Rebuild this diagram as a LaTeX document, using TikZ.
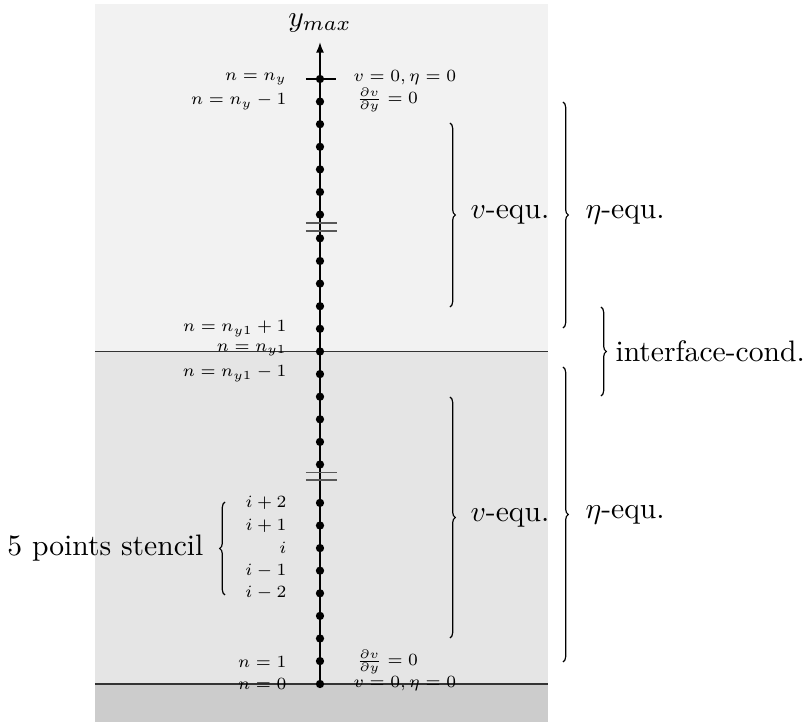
\documentclass[tikz,border=0pt]{standalone}
\usepackage{graphicx}
\usetikzlibrary{decorations.pathreplacing,arrows.meta}
\newcommand{\smlab}[1]{\scalebox{0.83}{\scriptsize #1}}
\begin{document}
\begin{tikzpicture}[x=0.3378pt,y=-0.3378pt,
  dotn/.style={circle,fill=black,inner sep=0pt,minimum size=2.8pt},
  lbl/.style={inner sep=1pt},
  biglbl/.style={font=\normalsize,inner sep=1pt},
  brc/.style={decorate,decoration={brace,amplitude=1.8pt},line width=0.4pt},
  hline/.style={black!80,line width=0.6pt},
  gapline/.style={black!65,line width=0.5pt}]
\useasboundingbox (0,0) rectangle (804,722);
% backgrounds
\fill[gray!10] (95,4) rectangle (548,351.5);
\fill[gray!20] (95,351.5) rectangle (548,684);
\fill[gray!40] (95,684) rectangle (548,722);
\draw[hline] (95,351.5) -- (548,351.5);
\draw[hline] (95,684) -- (548,684);
% axis
\coordinate (bot) at (320,684);
\coordinate (top) at (320,42);
\draw[line width=0.55pt,-{Latex[length=3.6pt,width=2.7pt]}] (bot) -- (top);
\node[biglbl] (ymax) at (320,23) {$y_{max}$};
% tick at top
\draw[line width=0.5pt] (306,79) -- (336,79);
% gap markers
\draw[gapline] (306,223) -- (337,223);
\draw[gapline] (306,231) -- (337,231);
\draw[gapline] (306,472.7) -- (337,472.7);
\draw[gapline] (306,480) -- (337,480);
% dots
\foreach \yy [count=\k] in {79,101.6,124.2,146.8,169.4,192,214.6,238.3,261,283.6,306.2,328.8,351.5,374.1,396.7,419.3,441.9,464.5,502.9,525.5,548.1,570.7,593.3,615.9,638.5,661.1,684}
  \node[dotn] (d\k) at (320,\yy) {};
% left labels
\node[lbl,anchor=east] (lny) at (290,79) {\smlab{$n=n_y$}};
\node[lbl,anchor=east] (lnym) at (290,101.6) {\smlab{$n=n_y-1$}};
\node[lbl,anchor=east] (lny1p) at (290,328.8) {\smlab{$n=n_{y1}+1$}};
\node[lbl,anchor=east] (lny1) at (290,350) {\smlab{$n=n_{y1}$}};
\node[lbl,anchor=east] (lny1m) at (290,373.5) {\smlab{$n=n_{y1}-1$}};
\node[lbl,anchor=east] (lip2) at (290,502.9) {\smlab{$i+2$}};
\node[lbl,anchor=east] (lip1) at (290,525.5) {\smlab{$i+1$}};
\node[lbl,anchor=east] (li) at (290,548.1) {\smlab{$i$}};
\node[lbl,anchor=east] (lim1) at (290,570.7) {\smlab{$i-1$}};
\node[lbl,anchor=east] (lim2) at (290,593.3) {\smlab{$i-2$}};
\node[lbl,anchor=east] (ln1) at (290,661.5) {\smlab{$n=1$}};
\node[lbl,anchor=east] (ln0) at (290,684) {\smlab{$n=0$}};
% right labels
\node[lbl,anchor=west] (rtop) at (350,78) {\smlab{$v=0,\eta=0$}};
\node[lbl,anchor=west] (rtop2) at (353,100) {\smlab{$\frac{\partial v}{\partial y}=0$}};
\node[lbl,anchor=west] (rbot2) at (353,662) {\smlab{$\frac{\partial v}{\partial y}=0$}};
\node[lbl,anchor=west] (rbot) at (350,684) {\smlab{$v=0,\eta=0$}};
% braces
\coordinate (bva) at (450,123); \coordinate (bvb) at (450,307);
\draw[brc] (bva) -- (bvb);
\node[biglbl,anchor=west] (tv1) at (467,215) {$v$-equ.};
\coordinate (bea) at (563,102); \coordinate (beb) at (563,328);
\draw[brc] (bea) -- (beb);
\node[biglbl,anchor=west] (te1) at (582,215) {$\eta$-equ.};
\coordinate (bia) at (601,307); \coordinate (bib) at (601,396);
\draw[brc] (bia) -- (bib);
\node[biglbl,anchor=west] (ti) at (612,351.5) {interface-cond.};
\coordinate (bec) at (563,367); \coordinate (bed) at (563,662);
\draw[brc] (bec) -- (bed);
\node[biglbl,anchor=west] (te2) at (582,514.5) {$\eta$-equ.};
\coordinate (bvc) at (450,397); \coordinate (bvd) at (450,638);
\draw[brc] (bvc) -- (bvd);
\node[biglbl,anchor=west] (tv2) at (467,517.5) {$v$-equ.};
\coordinate (bsa) at (225,595); \coordinate (bsb) at (225,502);
\draw[brc] (bsa) -- (bsb);
\node[biglbl,anchor=east] (ts) at (207,548.5) {5 points stencil};
\end{tikzpicture}
\end{document}
